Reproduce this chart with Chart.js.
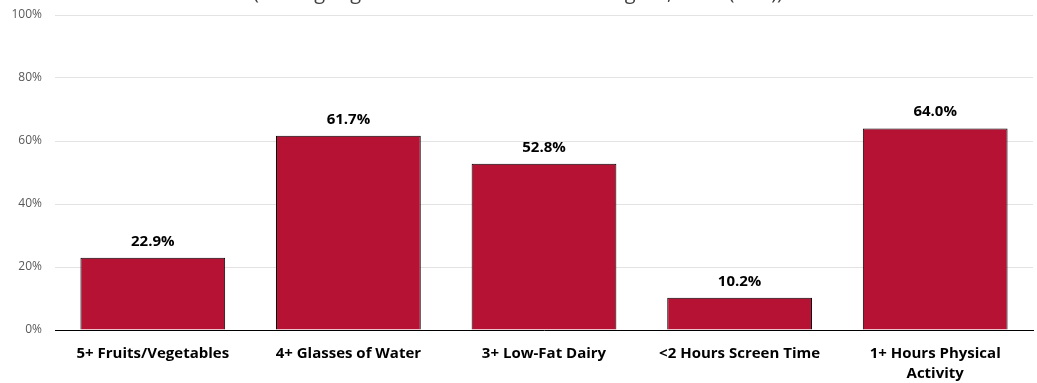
<!DOCTYPE html>
<html>
<head>
<meta charset="utf-8">
<script src="https://cdn.jsdelivr.net/npm/chart.js@4"></script>
<style>
  html, body { margin: 0; padding: 0; background: #fff; }
  #wrap { width: 1037px; height: 383px; }
</style>
</head>
<body>
<div id="wrap"><canvas id="myChart"></canvas></div>
<script>
// data
var categories = ['5+ Fruits/Vegetables', '4+ Glasses of Water', '3+ Low-Fat Dairy', '<2 Hours Screen Time', ['1+ Hours Physical', 'Activity']];
var percents = [22.9, 61.7, 52.8, 10.2, 64.0];
var yTicks = [0, 20, 40, 60, 80, 100];
var titleText = '(Among High School Students in Washington, 2016 (HYS))';

// title sits mostly above the canvas, only its bottom shows
var cutTitle = {
    id: 'cutTitle',
    afterDraw: function(chart){
        var ctx = chart.ctx;
        ctx.save();
        ctx.font = '20px "Open Sans"';
        ctx.fillStyle = '#404040';
        ctx.textAlign = 'center';
        ctx.textBaseline = 'alphabetic';
        ctx.fillText(titleText, 518, -1.5);
        ctx.restore();
    }
};

// value labels above bars
var barLabels = {
    id: 'barLabels',
    afterDatasetsDraw: function(chart){
        var ctx = chart.ctx;
        var meta = chart.getDatasetMeta(0);
        ctx.save();
        ctx.font = 'bold 15px "Open Sans"';
        ctx.fillStyle = '#000';
        ctx.textAlign = 'center';
        ctx.textBaseline = 'alphabetic';
        meta.data.forEach(function(bar, i){
            ctx.fillText(percents[i].toFixed(1) + '%', bar.x, bar.y - 12);
        });
        ctx.restore();
    }
};

var ctx = document.getElementById('myChart').getContext('2d');
var myChart = new Chart(ctx, {
    type: 'bar',
    data: {
        labels: categories,
        datasets: [{
            data: percents,
            backgroundColor: '#B51234',
            borderColor: '#000',
            borderWidth: 1,
            borderSkipped: 'bottom',
            barPercentage: 0.74,
            categoryPercentage: 1
        }]
    },
    options: {
        responsive: true,
        maintainAspectRatio: false,
        animation: false,
        layout: { padding: { top: 15, right: 4, left: 0, bottom: 0 } },
        plugins: {
            legend: { display: false },
            tooltip: { enabled: false }
        },
        scales: {
            x: {
                grid: { display: false, drawTicks: false },
                border: { color: '#000', width: 1 },
                afterFit: function(axis){ axis.height = 53; },
                ticks: {
                    color: '#000',
                    font: { family: 'Open Sans', size: 15, weight: 'bold', lineHeight: 1.33 },
                    padding: 14,
                    maxRotation: 0,
                    autoSkip: false
                }
            },
            y: {
                min: 0,
                max: 100,
                afterBuildTicks: function(axis){
                    axis.ticks = yTicks.map(function(v){ return { value: v }; });
                },
                afterFit: function(axis){
                    axis.width = 55;
                    axis.paddingTop = 0;
                    axis.paddingBottom = 0;
                },
                grid: { color: '#e3e3e3', drawTicks: false },
                border: { display: false },
                ticks: {
                    color: '#595959',
                    font: { family: 'Open Sans', size: 12 },
                    padding: 13,
                    callback: function(v){ return v + '%'; }
                }
            }
        }
    },
    plugins: [cutTitle, barLabels]
});
</script>
</body>
</html>
